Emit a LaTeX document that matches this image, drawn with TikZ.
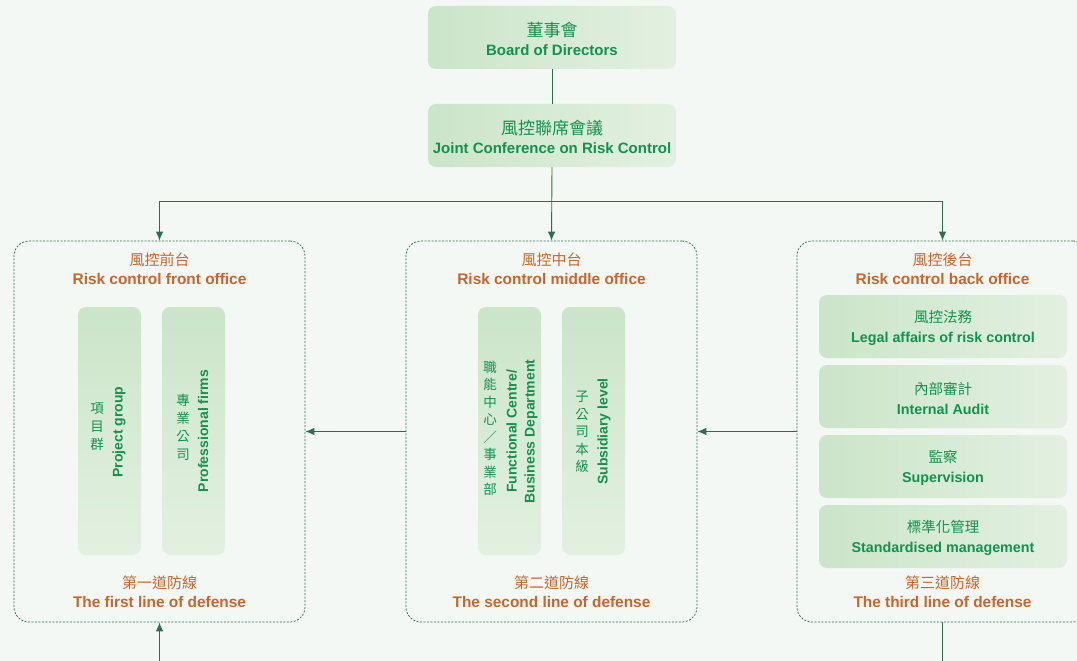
\documentclass[tikz,border=0pt]{standalone}
\usepackage{fontspec}
\setmainfont{Liberation Sans}
\newfontfamily\cjk{Noto Sans CJK TC}
\usetikzlibrary{arrows.meta}
\definecolor{bgc}{HTML}{F3F8F4}
\definecolor{txtg}{HTML}{12924F}
\definecolor{txto}{HTML}{C8652C}
\definecolor{lineg}{HTML}{2A7049}
\definecolor{boxa}{HTML}{CBE5C9}
\definecolor{boxb}{HTML}{E3F0E1}
\tikzset{
  hbox/.style={rounded corners=8pt, left color=boxa, right color=boxb, draw=none,
    minimum width=248pt, minimum height=63pt, inner sep=0pt},
  vbox/.style={rounded corners=8pt, top color=boxa, bottom color=boxb, draw=none,
    minimum width=63pt, minimum height=248pt, inner sep=0pt},
  panel/.style={draw=lineg, line width=0.75pt, dash pattern=on 2pt off 1.5pt,
    rounded corners=15pt, minimum width=291pt, minimum height=381pt, inner sep=0pt},
  gtext/.style={text=txtg, align=center, inner sep=0pt,
    font=\bfseries\fontsize{15}{19.5}\selectfont},
  stext/.style={text=txtg, align=center, inner sep=0pt,
    font=\bfseries\fontsize{14.3}{20}\selectfont},
  otext/.style={text=txto, align=center, inner sep=0pt,
    font=\bfseries\fontsize{15.4}{19}\selectfont},
  vzh/.style={text=txtg, align=center, inner sep=0pt,
    font=\cjk\fontsize{13.5}{18}\selectfont},
  ven/.style={text=txtg, align=center, inner sep=0pt, rotate=90,
    font=\bfseries\fontsize{14}{18}\selectfont},
  conn/.style={draw=lineg, line width=0.9pt},
  arr/.style={conn, -{Latex[length=9pt,width=7.5pt]}},
}
\newcommand{\zh}[2][15]{{\cjk\mdseries\fontsize{#1}{19.5}\selectfont #2}}
\begin{document}
\begin{tikzpicture}[x=1pt,y=-1pt]
\useasboundingbox (0,0) rectangle (1077,661);
\fill[bgc] (0,0) rectangle (1077,661);

% top boxes
\node[hbox] (board) at (552,37.5) {};
\node[gtext] (boardt) at (552,39) {\zh[17]{董事會}\\Board of Directors};
\node[hbox] (joint) at (552,135.5) {};
\node[gtext] (jointt) at (552,137) {\zh[17]{風控聯席會議}\\Joint Conference on Risk Control};

% panels
\node[panel] (left) at (159.5,431.5) {};
\node[panel] (mid) at (551.5,431.5) {};
\node[panel] (right) at (942.5,431.5) {};

\node[otext] (lt) at (159.5,269) {\zh{風控前台}\\Risk control front office};
\node[otext] (mt) at (551.5,269) {\zh{風控中台}\\Risk control middle office};
\node[otext] (rt) at (942.5,269) {\zh{風控後台}\\Risk control back office};
\node[otext] (lb) at (159.5,592) {\zh{第一道防線}\\The first line of defense};
\node[otext] (mb) at (551.5,592) {\zh{第二道防線}\\The second line of defense};
\node[otext] (rb) at (942.5,592) {\zh{第三道防線}\\The third line of defense};

% left inner boxes
\node[vbox] (l1) at (109.5,431) {};
\node[vzh] (l1z) at (97,427) {項\\目\\群};
\node[ven] (l1e) at (119,432) {Project group};
\node[vbox] (l2) at (193.5,431) {};
\node[vzh] (l2z) at (183,427) {專\\業\\公\\司};
\node[ven] (l2e) at (203,431) {Professional firms};

% middle inner boxes
\node[vbox] (m1) at (509.5,431) {};
\node[vzh, font=\cjk\fontsize{13.5}{17.5}\selectfont] (m1z) at (490,428.5) {職\\能\\中\\心\\／\\事\\業\\部};
\node[ven] (m1e) at (522,431.5) {Functional Centre/\\Business Department};
\node[vbox] (m2) at (593.5,431) {};
\node[vzh, font=\cjk\fontsize{13.5}{17.5}\selectfont] (m2z) at (582,432) {子\\公\\司\\本\\級};
\node[ven] (m2e) at (604,431.5) {Subsidiary level};

% right inner boxes
\node[hbox] (r1) at (943,326.5) {};
\node[stext] (r1t) at (943,328) {\zh[14.5]{風控法務}\\Legal affairs of risk control};
\node[hbox] (r2) at (943,396.5) {};
\node[stext] (r2t) at (943,398) {\zh[14.5]{內部審計}\\Internal Audit};
\node[hbox] (r3) at (943,466.5) {};
\node[stext] (r3t) at (943,468) {\zh[14.5]{監察}\\Supervision};
\node[hbox] (r4) at (943,536.5) {};
\node[stext] (r4t) at (943,538) {\zh[14.5]{標準化管理}\\Standardised management};

% connectors
\coordinate (jc) at (552,201);
\coordinate (bl) at (159.5,661);
\coordinate (br) at (942.5,661);
\draw[conn] (board.south) -- (joint.north);
\draw[arr] (joint.south) -- (mid.north);
\draw[arr] (jc) -| (left.north);
\draw[arr] (jc) -| (right.north);
\draw[arr] (mid.west) -- (left.east);
\draw[arr] (right.west) -- (mid.east);
\draw[arr] (bl) -- (left.south);
\draw[conn] (right.south) -- (br);
\end{tikzpicture}
\end{document}
